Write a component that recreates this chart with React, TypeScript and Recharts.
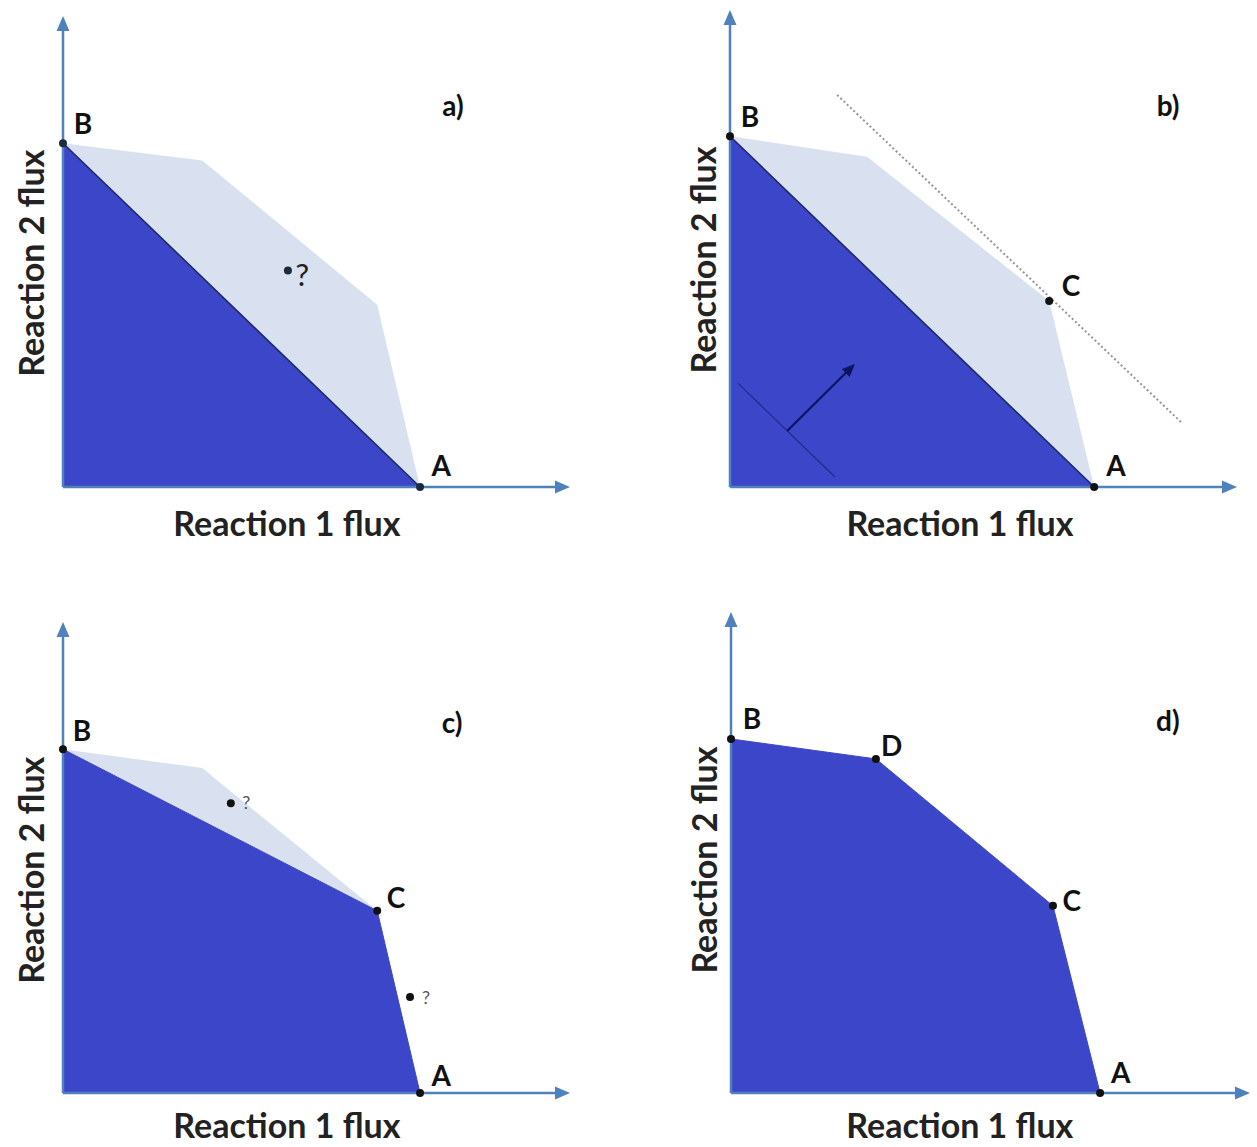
import React from 'react';
import { ComposedChart, Area, Scatter, XAxis, YAxis, ReferenceLine, ReferenceDot } from 'recharts';

const FONT = 'Lato, "Open Sans", "DejaVu Sans", sans-serif';
const DARK = '#3c46c8';
const LIGHT = '#d9e1f0';
const AXIS = '#4f81bd';
const OUTLINE = '#1c2a6b';

// ---------- Panel a ----------
const aX = [0, 3.9, 8.8, 10];
const aFeasible = [10, 9.5, 5.3, 0];
const aOptimal = [10, null, null, 0];
const aPoints = [{ x: 0, y: 10 }, { x: 10, y: 0 }, { x: 6.3, y: 6.3 }];
const aLabels = [
  { t: 'B', x: 0.56, y: 10.6, k: 'pt' },
  { t: 'A', x: 10.59, y: 0.64, k: 'pt' },
  { t: '?', x: 6.7, y: 6.2, k: 'qBig' },
  { t: 'a)', x: 10.92, y: 11.1, k: 'panel' },
];

// ---------- Panel b ----------
const bX = [0, 3.84, 8.94, 10.2];
const bFeasible = [10.2, 9.6, 5.41, 0];
const bOptimal = [10.2, null, null, 0];
const bPoints = [{ x: 0, y: 10.2 }, { x: 10.2, y: 0 }, { x: 8.94, y: 5.41 }];
const bObjectiveLine = [{ x: 3.0, y: 11.4 }, { x: 12.66, y: 1.86 }];
const bIsoLine = [{ x: 0.22, y: 3.02 }, { x: 2.94, y: 0.29 }];
const bDirection = [{ x: 1.6, y: 1.63 }, { x: 3.5, y: 3.58 }];
const bLabels = [
  { t: 'B', x: 0.56, y: 10.78, k: 'pt' },
  { t: 'A', x: 10.81, y: 0.64, k: 'pt' },
  { t: 'C', x: 9.55, y: 5.87, k: 'pt' },
  { t: 'b)', x: 12.27, y: 11.1, k: 'panel' },
];

// ---------- Panel c ----------
const cX = [0, 3.9, 8.8, 10];
const cFeasible = [10, 9.45, 5.3, null];
const cOptimal = [10, null, 5.3, 0];
const cPoints = [{ x: 0, y: 10 }, { x: 8.8, y: 5.3 }, { x: 10, y: 0 }, { x: 4.7, y: 8.43 }, { x: 9.72, y: 2.79 }];
const cLabels = [
  { t: 'B', x: 0.53, y: 10.55, k: 'pt' },
  { t: 'A', x: 10.59, y: 0.52, k: 'pt' },
  { t: 'C', x: 9.33, y: 5.7, k: 'pt' },
  { t: '?', x: 5.13, y: 8.46, k: 'qSmall' },
  { t: '?', x: 10.17, y: 2.79, k: 'qSmall' },
  { t: 'c)', x: 10.9, y: 10.78, k: 'panel' },
];

// ---------- Panel d ----------
const dX = [0, 4.06, 9.02, 10.34];
const dFeasible = [null, null, null, null];
const dOptimal = [10.29, 9.71, 5.44, 0];
const dPoints = [{ x: 0, y: 10.29 }, { x: 4.06, y: 9.71 }, { x: 9.02, y: 5.44 }, { x: 10.34, y: 0 }];
const dLabels = [
  { t: 'B', x: 0.59, y: 10.9, k: 'pt' },
  { t: 'D', x: 4.5, y: 10.12, k: 'pt' },
  { t: 'C', x: 9.55, y: 5.61, k: 'pt' },
  { t: 'A', x: 10.92, y: 0.61, k: 'pt' },
  { t: 'd)', x: 12.24, y: 10.84, k: 'panel' },
];

const X_TITLE = 'Reaction 1 flux';
const Y_TITLE = 'Reaction 2 flux';

const STYLES: Record<string, any> = {
  pt: { fontSize: 28, fontWeight: 700, fill: '#111' },
  panel: { fontSize: 28, fontWeight: 700, fill: '#111' },
  qBig: { fontSize: 31, fontWeight: 400, fill: '#222' },
  qSmall: { fontSize: 18, fontWeight: 400, fill: '#555' },
  title: { fontSize: 34, fontWeight: 700, fill: '#222' },
};

const textShape = (text: string, kind: string, angle = 0) => (p: any) => {
  const s = STYLES[kind];
  return (
    <text
      x={p.cx}
      y={p.cy}
      textAnchor="middle"
      dominantBaseline="central"
      fontFamily={FONT}
      fontSize={s.fontSize}
      fontWeight={s.fontWeight}
      fill={s.fill}
      transform={angle ? `rotate(${angle} ${p.cx} ${p.cy})` : undefined}
    >
      {text}
    </text>
  );
};

const arrowShape = (color: string, width: number, headLen: number, headHalf: number, dash?: string) => (p: any) => {
  const { x1, y1, x2, y2 } = p;
  if ([x1, y1, x2, y2].some((v) => v == null || isNaN(v))) return <g />;
  const dx = x2 - x1;
  const dy = y2 - y1;
  const len = Math.sqrt(dx * dx + dy * dy) || 1;
  const ux = dx / len;
  const uy = dy / len;
  const bx = x2 - ux * headLen;
  const by = y2 - uy * headLen;
  const px = -uy * headHalf;
  const py = ux * headHalf;
  return (
    <g>
      <line x1={x1} y1={y1} x2={bx + ux * 1} y2={by + uy * 1} stroke={color} strokeWidth={width} strokeDasharray={dash} />
      <polygon points={`${x2},${y2} ${bx + px},${by + py} ${bx - px},${by - py}`} fill={color} />
    </g>
  );
};

const dotShape = (r: number, color: string) => (p: any) => <circle cx={p.cx} cy={p.cy} r={r} fill={color} />;

type PanelProps = {
  left: number;
  top: number;
  width: number;
  height: number;
  margin: { top: number; right: number; bottom: number; left: number };
  xMax: number;
  yMax: number;
  xs: number[];
  feasible: (number | null)[];
  optimal: (number | null)[];
  outline: boolean;
  points: { x: number; y: number }[];
  labels: { t: string; x: number; y: number; k: string }[];
  xTitle: { x: number; y: number };
  yTitle: { x: number; y: number };
  extras?: React.ReactNode[];
  dotColor: string;
};

const Panel = (props: PanelProps) => {
  const rows = props.xs.map((x, i) => ({ x, feasible: props.feasible[i], optimal: props.optimal[i] }));
  return (
    <div style={{ position: 'absolute', left: props.left, top: props.top }}>
      <ComposedChart
        width={props.width}
        height={props.height}
        data={rows}
        margin={props.margin}
        style={{ overflow: 'visible' }}
      >
        <XAxis type="number" dataKey="x" domain={[0, props.xMax]} hide />
        <YAxis type="number" domain={[0, props.yMax]} hide />
        <Area
          type="linear"
          dataKey="feasible"
          fill={LIGHT}
          fillOpacity={1}
          stroke="none"
          connectNulls
          dot={false}
          activeDot={false}
          isAnimationActive={false}
        />
        <Area
          type="linear"
          dataKey="optimal"
          fill={DARK}
          fillOpacity={1}
          stroke={props.outline ? OUTLINE : DARK}
          strokeWidth={props.outline ? 1.6 : 1}
          connectNulls
          dot={false}
          activeDot={false}
          isAnimationActive={false}
        />
        {props.extras}
        <ReferenceLine
          segment={[{ x: 0, y: 0 }, { x: props.xMax, y: 0 }]}
          ifOverflow="visible"
          shape={arrowShape(AXIS, 2.5, 15, 6.5)}
        />
        <ReferenceLine
          segment={[{ x: 0, y: 0 }, { x: 0, y: props.yMax }]}
          ifOverflow="visible"
          shape={arrowShape(AXIS, 2.5, 15, 6.5)}
        />
        <Scatter data={props.points} dataKey="y" shape={dotShape(4, props.dotColor)} isAnimationActive={false} />
        {props.labels.map((l, i) => (
          <ReferenceDot key={'l' + i} x={l.x} y={l.y} r={0} ifOverflow="visible" shape={textShape(l.t, l.k)} />
        ))}
        <ReferenceDot x={props.xTitle.x} y={props.xTitle.y} r={0} ifOverflow="visible" shape={textShape(X_TITLE, 'title')} />
        <ReferenceDot x={props.yTitle.x} y={props.yTitle.y} r={0} ifOverflow="visible" shape={textShape(Y_TITLE, 'title', -90)} />
      </ComposedChart>
    </div>
  );
};

export default function App() {
  const bExtras = [
    <ReferenceLine
      key="obj"
      segment={bObjectiveLine}
      ifOverflow="visible"
      stroke="#959595"
      strokeWidth={2}
      strokeDasharray="2 2.5"
    />,
    <ReferenceLine key="iso" segment={bIsoLine} ifOverflow="visible" stroke="#1f2a8a" strokeWidth={1.2} />,
    <ReferenceLine
      key="dir"
      segment={bDirection}
      ifOverflow="visible"
      shape={arrowShape('#0b1460', 2.2, 13, 5.5)}
    />,
  ];
  return (
    <div style={{ position: 'absolute', left: 0, top: 0, width: 1257, height: 1147, background: '#fff', overflow: 'hidden' }}>
      <Panel
        left={0}
        top={0}
        width={620}
        height={560}
        margin={{ top: 16, right: 50, bottom: 73, left: 63 }}
        xMax={14.2}
        yMax={13.7}
        xs={aX}
        feasible={aFeasible}
        optimal={aOptimal}
        outline
        points={aPoints}
        labels={aLabels}
        xTitle={{ x: 6.27, y: -1.02 }}
        yTitle={{ x: -0.92, y: 6.51 }}
        dotColor="#1d2b3a"
      />
      <Panel
        left={640}
        top={0}
        width={617}
        height={560}
        margin={{ top: 10, right: 20, bottom: 73, left: 90 }}
        xMax={14.2}
        yMax={13.87}
        xs={bX}
        feasible={bFeasible}
        optimal={bOptimal}
        outline
        points={bPoints}
        labels={bLabels}
        xTitle={{ x: 6.44, y: -1.02 }}
        yTitle={{ x: -0.76, y: 6.6 }}
        extras={bExtras}
        dotColor="#111"
      />
      <Panel
        left={0}
        top={600}
        width={620}
        height={547}
        margin={{ top: 22, right: 50, bottom: 54, left: 63 }}
        xMax={14.2}
        yMax={13.7}
        xs={cX}
        feasible={cFeasible}
        optimal={cOptimal}
        outline={false}
        points={cPoints}
        labels={cLabels}
        xTitle={{ x: 6.27, y: -0.93 }}
        yTitle={{ x: -0.92, y: 6.48 }}
        dotColor="#111"
      />
      <Panel
        left={640}
        top={600}
        width={617}
        height={547}
        margin={{ top: 12, right: 7, bottom: 54, left: 91 }}
        xMax={14.54}
        yMax={13.98}
        xs={dX}
        feasible={dFeasible}
        optimal={dOptimal}
        outline={false}
        points={dPoints}
        labels={dLabels}
        xTitle={{ x: 6.41, y: -0.93 }}
        yTitle={{ x: -0.78, y: 6.77 }}
        dotColor="#111"
      />
    </div>
  );
}
